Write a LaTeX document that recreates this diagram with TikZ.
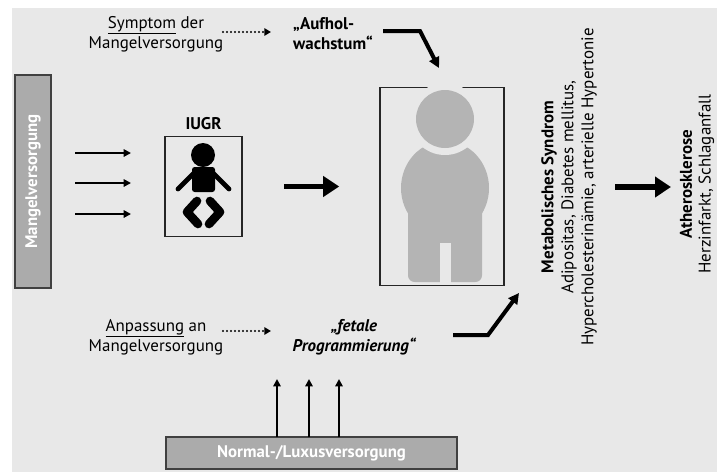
\documentclass[tikz,border=0pt]{standalone}
\usepackage{fontspec}
\setmainfont{PT Sans}
\usetikzlibrary{arrows.meta}
\definecolor{bggray}{HTML}{E8E8E8}
\definecolor{boxgray}{HTML}{ABABAB}
\definecolor{figgray}{HTML}{B4B4B4}
\tikzset{
  txt/.style={font=\fontsize{12.7}{15}\selectfont, align=center, inner sep=0pt},
  supply/.style={draw=black!75, line width=1.1pt, fill=boxgray, text=white,
    font=\fontsize{12.6}{15}\selectfont\bfseries, inner sep=0pt},
  frame/.style={draw=black!85, line width=1pt, fill=bggray, inner sep=0pt},
  thinarrow/.style={line width=1.5pt, -{Triangle[length=5.5pt,width=5.5pt]}},
  fatarrow/.style={line width=4.2pt, -{Triangle[length=12pt,width=15pt]}},
  dotarrow/.style={line width=1.8pt, line cap=round, dash pattern=on 0pt off 3pt,
    -{Triangle[length=5pt,width=5.5pt]}},
  bentarrow/.style={line width=3pt, line join=miter, -{Triangle[length=8pt,width=8pt]}}
}
\begin{document}
\begin{tikzpicture}[x=0.75pt,y=-0.75pt]
\useasboundingbox (0,0) rectangle (717,472);
\fill[bggray] (12,8) rectangle (717,472);

% Versorgung
\node[supply, rotate=90, minimum width=159.75pt, minimum height=27pt] (mangel) at (33,181.5) {Mangelversorgung};
\node[supply, minimum width=218pt, minimum height=24pt] (normal) at (311.5,453) {Normal-/Luxusversorgung};

% IUGR
\node[txt, font=\fontsize{12.7}{15}\selectfont\bfseries] (iugrtxt) at (203.5,124) {IUGR};
\node[frame, minimum width=57.75pt, minimum height=75pt] (iugr) at (203.5,186.5) {};
\fill (203,155) circle (12);
\fill[rounded corners=2pt] (192,167) rectangle (215,192);
\draw[line width=3.6pt, line cap=round] (194,173) -- (178,189);
\draw[line width=3.6pt, line cap=round] (213,173) -- (229,189);
\draw[line width=6.5pt, line cap=round, line join=round] (197,201) -- (187,212) -- (198,224);
\draw[line width=6.5pt, line cap=round, line join=round] (210,201) -- (220,212) -- (209,224);

% Erwachsener
\node[frame, line width=1.2pt, minimum width=93pt, minimum height=148.5pt] (adult) at (442,186.5) {};
\fill[figgray] (445,188) ellipse (44 and 47);
\fill[figgray, rounded corners=5pt] (408,188) rectangle (482,282);
\fill[bggray] (445,119) circle (36);
\fill[figgray] (445,119) circle (29);
\fill[bggray] (439.5,243) rectangle (450.5,283);

% Texte
\node[txt] (symptom) at (156,34) {\underline{Symptom} der\\Mangelversorgung};
\node[txt, align=left, font=\fontsize{12.7}{15}\selectfont\bfseries] (aufhol) at (333,34) {„Aufhol-\\wachstum“};
\node[txt] (anpassung) at (156,337) {\underline{Anpassung} an\\Mangelversorgung};
\node[txt, font=\fontsize{12.7}{15}\selectfont\bfseries\itshape] (fetal) at (354,337) {„fetale\\Programmierung“};
\node[txt, rotate=90] (metab) at (569,187) {\textbf{Metabolisches Syndrom}\\Adipositas, Diabetes mellitus,\\Hypercholesterinämie, arterielle Hypertonie};
\node[txt, rotate=90, font=\fontsize{12.7}{14}\selectfont] (athero) at (697,184) {\textbf{Atherosklerose}\\Herzinfarkt, Schlaganfall};

% Pfeile
\coordinate (m1) at (75,153);  \coordinate (i1) at (131,153);
\coordinate (m2) at (75,183);  \coordinate (i2) at (131,183);
\coordinate (m3) at (75,214);  \coordinate (i3) at (131,214);
\draw[thinarrow] (m1) -- (i1);
\draw[thinarrow] (m2) -- (i2);
\draw[thinarrow] (m3) -- (i3);

\coordinate (n1) at (277,437); \coordinate (f1) at (277,379);
\coordinate (n2) at (309,437); \coordinate (f2) at (309,379);
\coordinate (n3) at (339,437); \coordinate (f3) at (339,379);
\draw[thinarrow] (n1) -- (f1);
\draw[thinarrow] (n2) -- (f2);
\draw[thinarrow] (n3) -- (f3);

\draw[fatarrow, shorten <=31pt, shorten >=30pt] (iugr.east) -- (adult.west |- iugr.east);
\coordinate (s1) at (615,187); \coordinate (s2) at (671,187);
\draw[fatarrow] (s1) -- (s2);

\coordinate (d1) at (223,32);  \coordinate (d2) at (271,32);
\coordinate (d3) at (223,331); \coordinate (d4) at (271,331);
\draw[dotarrow] (d1) -- (d2);
\draw[dotarrow] (d3) -- (d4);

\coordinate (b1) at (383,31);  \coordinate (b2) at (439,68);
\draw[bentarrow] (b1) -- (420,31) -- (b2);
\coordinate (c1) at (453,335); \coordinate (c2) at (519,293);
\draw[bentarrow] (c1) -- (488,335) -- (c2);
\end{tikzpicture}
\end{document}
